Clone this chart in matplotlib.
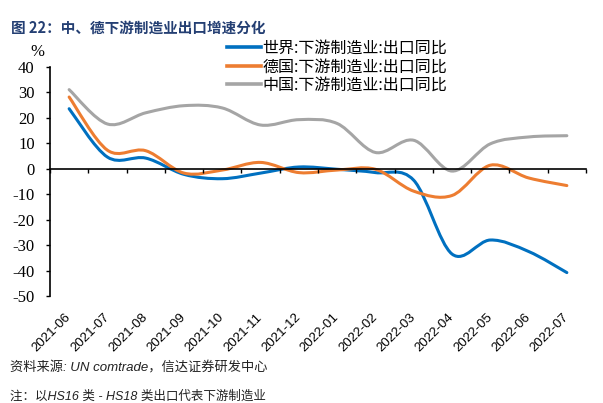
import numpy as np
import matplotlib
matplotlib.use("Agg")
import matplotlib.pyplot as plt
from matplotlib.path import Path
from matplotlib.patches import PathPatch
from matplotlib.lines import Line2D

plt.rcParams['font.family'] = ['Noto Sans CJK SC', 'DejaVu Sans']

months = ['2021-06', '2021-07', '2021-08', '2021-09', '2021-10', '2021-11', '2021-12',
          '2022-01', '2022-02', '2022-03', '2022-04', '2022-05', '2022-06', '2022-07']
world = [23.6, 4.6, 4.2, -2.2, -3.9, -1.7, 0.7, -0.2, -1.5, -4.5, -33.5, -28.0, -32.5, -40.8]
germany = [28.2, 7.3, 7.1, -1.7, -0.5, 2.5, -1.5, -0.5, -0.2, -8.8, -10.5, 1.4, -3.6, -6.6]
china = [31.1, 17.6, 22.0, 24.8, 23.9, 17.2, 19.3, 17.8, 6.4, 11.2, -0.9, 9.8, 12.5, 13.0]

labels = ['世界:下游制造业:出口同比', '德国:下游制造业:出口同比', '中国:下游制造业:出口同比']
colors = ['#0070C0', '#ED7D31', '#A5A5A5']
yticks = np.arange(-50, 41, 10)


def smooth_path(x, y):
    # excel style smoothed line: cubic bezier through every point
    n = len(x)
    verts = [(x[0], y[0])]
    codes = [Path.MOVETO]
    for i in range(n - 1):
        im = max(i - 1, 0)
        ip = min(i + 2, n - 1)
        c1 = (x[i] + (x[i + 1] - x[im]) / 6, y[i] + (y[i + 1] - y[im]) / 6)
        c2 = (x[i + 1] - (x[ip] - x[i]) / 6, y[i + 1] - (y[ip] - y[i]) / 6)
        verts += [c1, c2, (x[i + 1], y[i + 1])]
        codes += [Path.CURVE4] * 3
    return Path(verts, codes)


fig = plt.figure(figsize=(6.03, 4.03), dpi=100)
ax = fig.add_axes([50 / 603, 1 - 296 / 403, 536 / 603, 229 / 403])

x = np.arange(len(months))
handles = []
for vals, lab, col in zip([world, germany, china], labels, colors):
    patch = PathPatch(smooth_path(x, np.array(vals, dtype=float)), fill=False,
                      edgecolor=col, lw=2.2, capstyle='round', joinstyle='round')
    ax.add_patch(patch)
    handles.append(Line2D([], [], color=col, lw=2.6, label=lab))

ax.set_xlim(-0.5, len(months) - 0.5)
ax.set_ylim(-50, 40)
ax.set_yticks(yticks)
ax.set_yticklabels([str(v) for v in yticks], family='Liberation Serif', fontsize=12)
ax.tick_params(axis='y', direction='out', length=3, width=1, pad=8, colors='black')

# axis line at zero with boundary ticks
ax.spines['bottom'].set_position(('data', 0))
ax.spines['bottom'].set_linewidth(1.2)
ax.spines['left'].set_linewidth(1.2)
ax.spines['top'].set_visible(False)
ax.spines['right'].set_visible(False)
ax.set_xticks(np.arange(-0.5, len(months), 1))
ax.set_xticklabels([])
ax.tick_params(axis='x', direction='out', length=3, width=1)

# month labels along the bottom
sec = ax.secondary_xaxis(0.0)
sec.spines['bottom'].set_visible(False)
sec.set_xticks(x)
sec.set_xticklabels(months, rotation=45, ha='right', va='center', rotation_mode='anchor',
                    family='Liberation Sans', fontsize=9.5)
sec.tick_params(axis='x', length=0, pad=14)

ax.text(37 / 603, 1 - 52 / 403, '%', transform=fig.transFigure, ha='center', va='center',
        family='Liberation Serif', fontsize=12)

fig.legend(handles=handles, loc='upper left', bbox_to_anchor=(227 / 603, 1 - 40 / 403),
           frameon=False, fontsize=11.5, handlelength=2.1, handletextpad=0.1,
           labelspacing=0.08, borderpad=0, borderaxespad=0)

fig.text(11 / 603, 1 - 28 / 403, '图 22：中、德下游制造业出口增速分化', fontsize=10.5,
         fontweight='bold', color='#243F73', va='center', ha='left')
fig.text(10 / 603, 1 - 368 / 403, '资料来源: UN comtrade，信达证券研发中心', fontsize=9.5,
         style='italic', color='#222222', va='center', ha='left',
         family=['Liberation Sans', 'Noto Sans CJK SC'])
fig.text(10 / 603, 1 - 397 / 403, '注：以HS16 类 - HS18 类出口代表下游制造业', fontsize=9,
         style='italic', color='#222222', va='center', ha='left',
         family=['Liberation Sans', 'Noto Sans CJK SC'])

fig.savefig('out.png', dpi=100)
